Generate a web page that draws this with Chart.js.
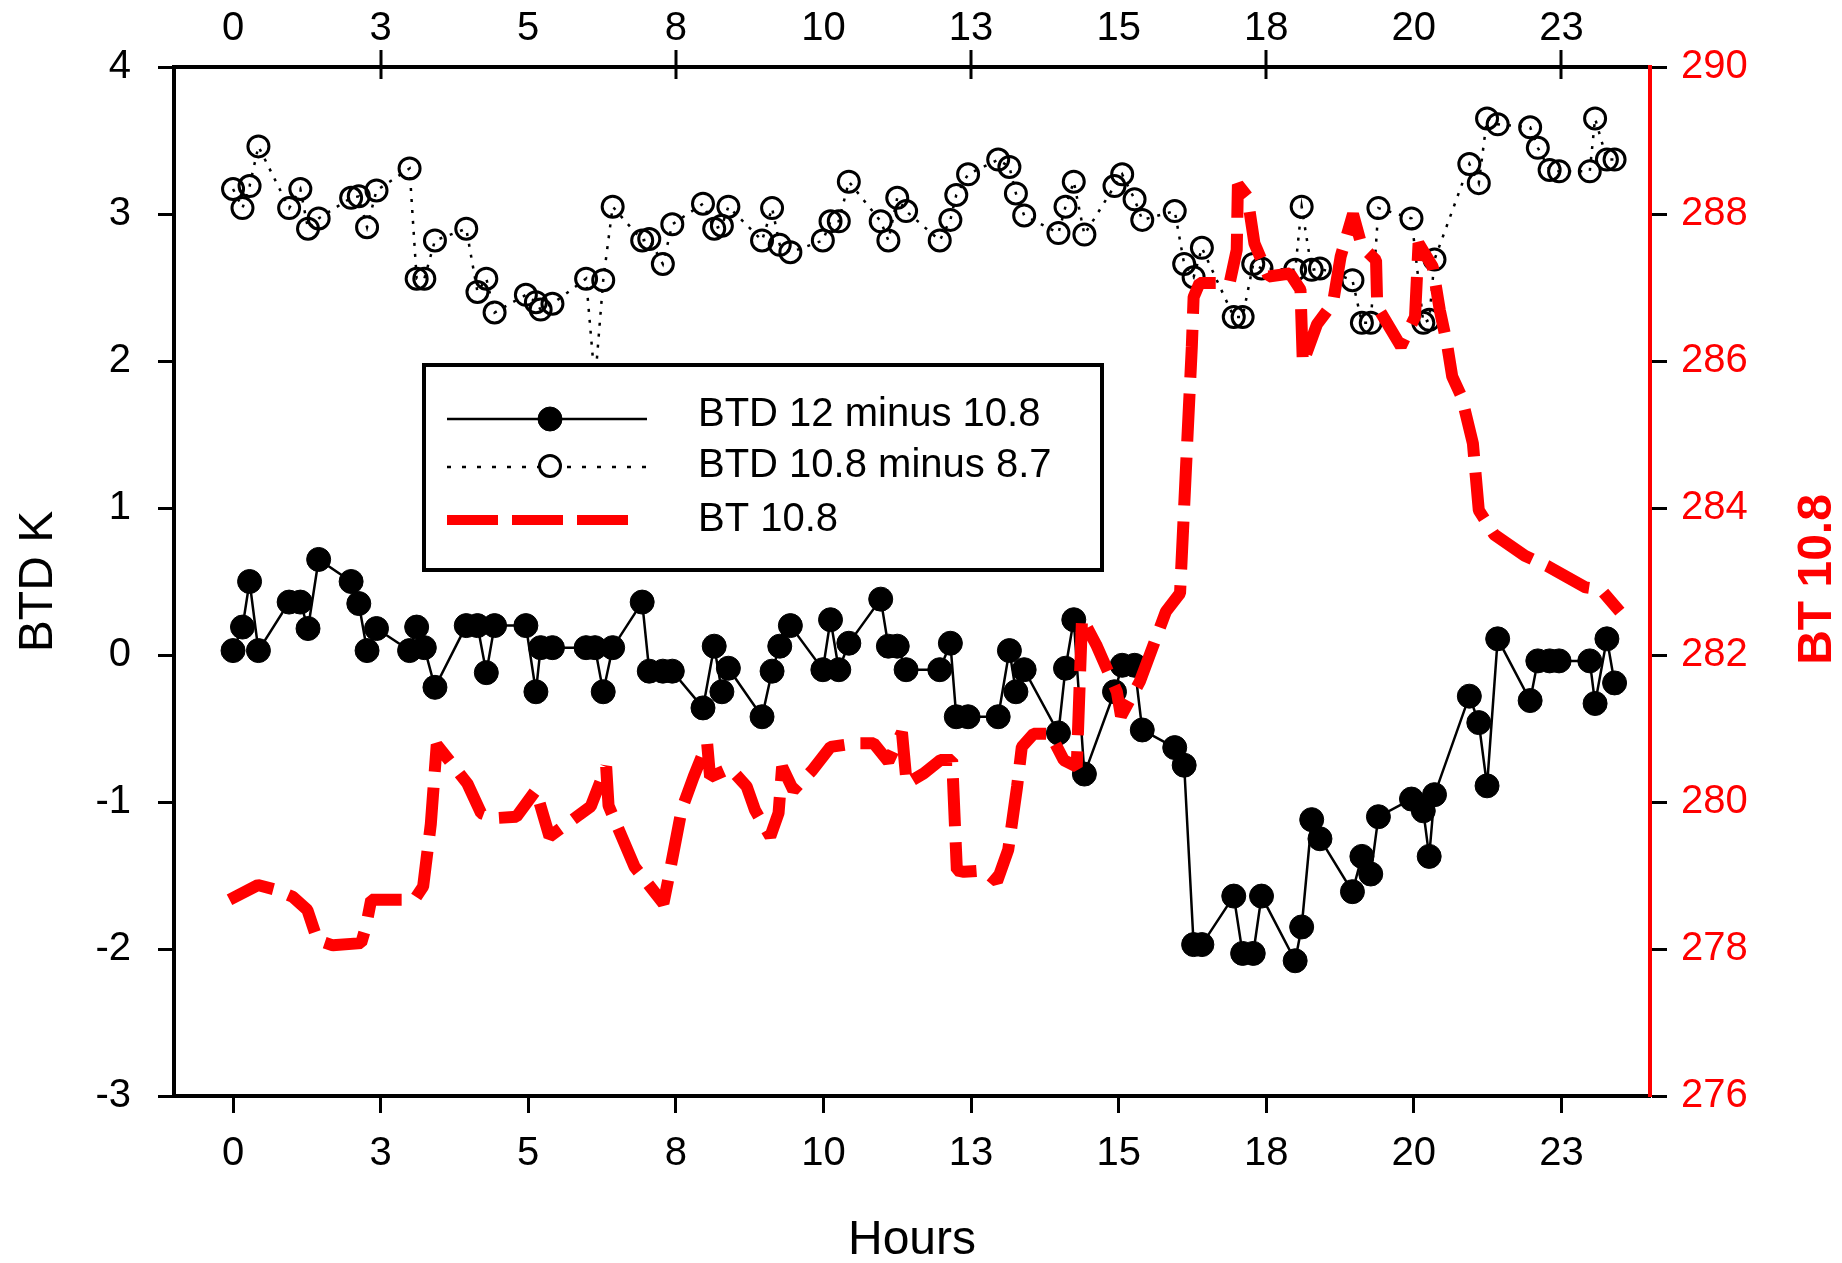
<!DOCTYPE html>
<html>
<head>
<meta charset="utf-8">
<title>BTD and BT 10.8</title>
<script src="https://cdn.jsdelivr.net/npm/chart.js@4.4.1/dist/chart.umd.min.js"></script>
<style>
    html, body { margin: 0; padding: 0; background: #fff; }
    canvas { display: block; }
</style>
</head>
<body>
<canvas id="myChart" width="1842" height="1263"></canvas>
<script>
// times shared by the two BTD series (hours)
const hours = [0.00, 0.16, 0.28, 0.43, 0.95, 1.14, 1.27, 1.45, 2.00, 2.13,
    2.27, 2.43, 2.99, 3.11, 3.24, 3.42, 3.95, 4.14, 4.29, 4.43,
    4.96, 5.13, 5.21, 5.41, 5.98, 6.13, 6.27, 6.43, 6.93, 7.05,
    7.28, 7.44, 7.96, 8.15, 8.28, 8.39, 8.96, 9.13, 9.26, 9.44,
    9.99, 10.12, 10.26, 10.43, 10.97, 11.10, 11.25, 11.40, 11.97, 12.15,
    12.25, 12.45, 12.96, 13.15, 13.26, 13.40, 13.98, 14.10, 14.24, 14.42,
    14.93, 15.06, 15.27, 15.40, 15.95, 16.11, 16.27, 16.41, 16.95, 17.10,
    17.28, 17.42, 17.99, 18.10, 18.27, 18.41, 18.96, 19.12, 19.27, 19.40,
    19.96, 20.16, 20.26, 20.35, 20.94, 21.10, 21.24, 21.42, 21.97, 22.10,
    22.30, 22.46, 22.98, 23.07, 23.27, 23.40];

const btd12minus108 = [0.03, 0.19, 0.50, 0.03, 0.36, 0.36, 0.18, 0.65, 0.50, 0.35,
    0.03, 0.18, 0.03, 0.19, 0.05, -0.22, 0.20, 0.20, -0.12, 0.20,
    0.20, -0.25, 0.05, 0.05, 0.05, 0.05, -0.25, 0.05, 0.36, -0.11,
    -0.11, -0.11, -0.36, 0.06, -0.25, -0.09, -0.42, -0.11, 0.06, 0.20,
    -0.10, 0.24, -0.10, 0.08, 0.38, 0.06, 0.06, -0.10, -0.10, 0.08,
    -0.42, -0.42, -0.42, 0.03, -0.25, -0.10, -0.53, -0.09, 0.24, -0.81,
    -0.25, -0.07, -0.07, -0.51, -0.63, -0.75, -1.97, -1.97, -1.64, -2.03,
    -2.03, -1.64, -2.08, -1.85, -1.12, -1.25, -1.61, -1.37, -1.49, -1.10,
    -0.98, -1.06, -1.37, -0.95, -0.28, -0.46, -0.89, 0.11, -0.31, -0.04,
    -0.04, -0.04, -0.04, -0.33, 0.11, -0.19];

const btd108minus87 = [3.17, 3.04, 3.19, 3.46, 3.04, 3.17, 2.90, 2.97, 3.11, 3.12,
    2.91, 3.16, 3.31, 2.56, 2.56, 2.82, 2.90, 2.47, 2.56, 2.33,
    2.45, 2.40, 2.35, 2.39, 2.56, 1.85, 2.55, 3.05, 2.82, 2.83,
    2.66, 2.93, 3.07, 2.90, 2.92, 3.05, 2.82, 3.04, 2.79, 2.74,
    2.82, 2.95, 2.95, 3.22, 2.95, 2.82, 3.11, 3.02, 2.82, 2.96,
    3.13, 3.27, 3.37, 3.32, 3.14, 2.99, 2.87, 3.05, 3.22, 2.86,
    3.19, 3.27, 3.10, 2.96, 3.02, 2.66, 2.57, 2.77, 2.30, 2.30,
    2.66, 2.63, 2.62, 3.05, 2.62, 2.63, 2.55, 2.26, 2.26, 3.04,
    2.97, 2.26, 2.28, 2.69, 3.34, 3.21, 3.65, 3.61, 3.59, 3.45,
    3.30, 3.29, 3.29, 3.65, 3.37, 3.37];

// BT 10.8 (right axis, K)
const btHours = [-0.06, 0.42, 0.75, 1.01, 1.26, 1.43, 1.69, 2.17, 2.25, 2.34,
    3.07, 3.22, 3.35, 3.45, 3.97, 4.20, 4.43, 4.80, 5.13, 5.36,
    6.06, 6.32, 6.36, 6.80, 7.29, 7.38, 7.60, 7.80, 8.03, 8.08,
    8.42, 8.70, 8.84, 9.10, 9.24, 9.30, 9.49, 9.81, 10.12, 10.55,
    10.85, 11.10, 11.33, 11.41, 11.70, 11.98, 12.18, 12.26, 12.38, 12.72,
    12.94, 13.13, 13.28, 13.36, 13.56, 13.84, 14.07, 14.29, 14.38, 14.62,
    14.97, 15.04, 15.36, 15.80, 16.04, 16.17, 16.24, 16.27, 16.37, 16.88,
    17.00, 17.02, 17.18, 17.30, 17.54, 17.90, 18.08, 18.12, 18.36, 18.63,
    18.76, 18.97, 19.12, 19.36, 19.38, 19.78, 20.02, 20.08, 20.32, 20.44,
    20.56, 20.65, 20.81, 21.00, 21.10, 21.36, 21.88, 22.26, 22.91, 23.17, 23.49];

const bt108 = [278.67, 278.87, 278.80, 278.71, 278.53, 278.12, 278.05, 278.08, 278.30, 278.67,
    278.67, 278.85, 279.70, 280.78, 280.25, 279.85, 279.78, 279.80, 280.16, 279.53,
    279.94, 280.48, 279.95, 279.12, 278.62, 278.98, 279.90, 280.34, 280.80, 280.34,
    280.46, 280.21, 279.89, 279.53, 279.85, 280.48, 280.16, 280.43, 280.75, 280.80,
    280.80, 280.55, 280.95, 280.25, 280.39, 280.57, 280.57, 279.07, 279.05, 279.07,
    278.92, 279.35, 280.21, 280.75, 280.93, 280.93, 280.57, 280.48, 282.50, 282.14,
    281.50, 281.17, 281.64, 282.59, 282.84, 285.04, 286.20, 286.87, 287.06, 287.06,
    287.51, 288.40, 288.24, 287.60, 287.15, 287.19, 286.97, 285.97, 286.50, 286.79,
    287.42, 288.00, 287.56, 287.37, 286.74, 286.20, 286.60, 287.60, 287.28, 286.69,
    286.24, 285.79, 285.51, 284.88, 283.97, 283.64, 283.35, 283.21, 282.92, 282.89, 282.59];

const xTickValues = [0, 2.5, 5, 7.5, 10, 12.5, 15, 17.5, 20, 22.5];
const xTickLabels = ['0', '3', '5', '8', '10', '13', '15', '18', '20', '23'];
const btdTicks = [-3, -2, -1, 0, 1, 2, 3, 4];
const btTicks = [276, 278, 280, 282, 284, 286, 288, 290];
const seriesNames = ['BTD 12 minus 10.8', 'BTD 10.8 minus 8.7', 'BT 10.8'];

const FONT = "'Liberation Sans', Arial, sans-serif";
Chart.defaults.font.family = FONT;

const toPoints = (xs, ys) => xs.map((x, i) => ({x: x, y: ys[i]}));
const setTicks = (values) => (scale) => {
    scale.ticks = values.map(v => ({value: v}));
};

// legend drawn inside the plot, on top of the data
const insideLegend = {
    id: 'insideLegend',
    afterDatasetsDraw(chart) {
        const ctx = chart.ctx;
        ctx.save();
        ctx.fillStyle = '#fff';
        ctx.fillRect(424, 365, 678, 205);
        ctx.lineWidth = 4;
        ctx.strokeStyle = '#000';
        ctx.strokeRect(424, 365, 678, 205);

        const rowY = [419, 467, 520];
        const textY = [415, 466, 520];
        chart.data.datasets.forEach((ds, i) => {
            const y = rowY[i];
            ctx.beginPath();
            ctx.strokeStyle = ds.borderColor;
            ctx.lineCap = 'butt';
            if (i === 2) {
                ctx.lineWidth = 10;
                ctx.setLineDash([51, 14]);
                ctx.moveTo(447, y);
                ctx.lineTo(629, y);
            } else {
                ctx.lineWidth = ds.borderWidth;
                ctx.setLineDash(i === 1 ? [4, 11] : []);
                ctx.moveTo(447, y);
                ctx.lineTo(647, y);
            }
            ctx.stroke();
            ctx.setLineDash([]);
            if (ds.pointRadius > 0) {
                ctx.beginPath();
                ctx.arc(550, i === 1 ? 466 : y, ds.pointRadius, 0, Math.PI * 2);
                if (i === 1) {
                    ctx.fillStyle = '#fff';
                    ctx.fill();
                }
                ctx.fillStyle = ds.pointBackgroundColor;
                ctx.fill();
                ctx.lineWidth = ds.pointBorderWidth;
                ctx.strokeStyle = ds.pointBorderColor;
                ctx.stroke();
            }
            ctx.fillStyle = '#000';
            ctx.font = '40px ' + FONT;
            ctx.textAlign = 'left';
            ctx.textBaseline = 'middle';
            ctx.fillText(ds.label, 698, textY[i]);
        });
        ctx.restore();
    }
};

// top axis ticks cross the axis line, only at every second label
const topTicksAndRightTitle = {
    id: 'topTicksAndRightTitle',
    afterDraw(chart) {
        const ctx = chart.ctx;
        const top = chart.scales.xTop;
        const area = chart.chartArea;
        ctx.save();
        ctx.strokeStyle = '#000';
        ctx.lineWidth = 3;
        xTickValues.forEach((v, i) => {
            if (i % 2 === 1) {
                const px = Math.round(top.getPixelForValue(v));
                ctx.beginPath();
                ctx.moveTo(px, area.top - 17);
                ctx.lineTo(px, area.top + 12);
                ctx.stroke();
            }
        });

        // right axis title reads bottom to top
        ctx.translate(chart.width - 24, (area.top + area.bottom) / 2 - 2);
        ctx.rotate(-Math.PI / 2);
        ctx.fillStyle = '#ff0000';
        ctx.font = 'bold 48px ' + FONT;
        ctx.textAlign = 'center';
        ctx.textBaseline = 'middle';
        ctx.fillText(seriesNames[2], 0, 0);
        ctx.restore();
    }
};

const tickFont = {size: 40, family: FONT};

const ctx = document.getElementById('myChart').getContext('2d');
const myChart = new Chart(ctx, {
    type: 'line',
    data: {
        datasets: [
            {
                label: seriesNames[0],
                data: toPoints(hours, btd12minus108),
                xAxisID: 'x',
                yAxisID: 'y',
                borderColor: '#000',
                borderWidth: 2.5,
                pointRadius: 12,
                pointBackgroundColor: '#000',
                pointBorderColor: '#000',
                pointBorderWidth: 1,
                order: 1
            },
            {
                label: seriesNames[1],
                data: toPoints(hours, btd108minus87),
                xAxisID: 'x',
                yAxisID: 'y',
                borderColor: '#000',
                borderWidth: 2.5,
                borderDash: [3, 8],
                pointRadius: 10.5,
                pointBackgroundColor: 'rgba(0,0,0,0)',
                pointBorderColor: '#000',
                pointBorderWidth: 3,
                order: 2
            },
            {
                label: seriesNames[2],
                data: toPoints(btHours, bt108),
                xAxisID: 'x',
                yAxisID: 'y2',
                borderColor: '#ff0000',
                borderWidth: 12,
                borderDash: [48, 16],
                borderCapStyle: 'butt',
                borderJoinStyle: 'bevel',
                pointRadius: 0,
                order: 0
            }
        ]
    },
    options: {
        responsive: false,
        animation: false,
        events: [],
        layout: {padding: 0},
        elements: {line: {tension: 0}},
        plugins: {
            legend: {display: false},
            tooltip: {enabled: false}
        },
        scales: {
            x: {
                type: 'linear',
                position: 'bottom',
                min: -1,
                max: 24,
                afterBuildTicks: setTicks(xTickValues),
                afterFit: (s) => { s.height = 167; },
                ticks: {
                    callback: (v, i) => xTickLabels[i],
                    font: tickFont,
                    color: '#000',
                    padding: 17,
                    maxRotation: 0,
                    autoSkip: false
                },
                grid: {drawOnChartArea: false, tickLength: 17, tickWidth: 3, tickColor: '#000'},
                border: {color: '#000', width: 4},
                title: {
                    display: true,
                    text: 'Hours',
                    color: '#000',
                    font: {size: 48, family: FONT},
                    padding: {top: 0, bottom: -7}
                }
            },
            xTop: {
                type: 'linear',
                position: 'top',
                min: -1,
                max: 24,
                afterBuildTicks: setTicks(xTickValues),
                afterFit: (s) => { s.height = 67; },
                ticks: {
                    callback: (v, i) => xTickLabels[i],
                    font: tickFont,
                    color: '#000',
                    padding: 14,
                    maxRotation: 0,
                    autoSkip: false
                },
                grid: {drawOnChartArea: false, drawTicks: false},
                border: {color: '#000', width: 4}
            },
            y: {
                type: 'linear',
                position: 'left',
                min: -3,
                max: 4,
                afterBuildTicks: setTicks(btdTicks),
                afterFit: (s) => { s.width = 174; },
                ticks: {font: tickFont, color: '#000', padding: 27},
                grid: {drawOnChartArea: false, tickLength: 16, tickWidth: 3, tickColor: '#000'},
                border: {color: '#000', width: 4},
                title: {
                    display: true,
                    text: 'BTD K',
                    color: '#000',
                    font: {size: 48, family: FONT},
                    padding: {top: 10, bottom: 0}
                }
            },
            y2: {
                type: 'linear',
                position: 'right',
                min: 276,
                max: 290,
                afterBuildTicks: setTicks(btTicks),
                afterFit: (s) => { s.width = 192; },
                ticks: {font: tickFont, color: '#ff0000', padding: 14},
                grid: {drawOnChartArea: false, tickLength: 17, tickWidth: 3, tickColor: '#000'},
                border: {color: '#ff0000', width: 4}
            }
        }
    },
    plugins: [insideLegend, topTicksAndRightTitle]
});
</script>
</body>
</html>
